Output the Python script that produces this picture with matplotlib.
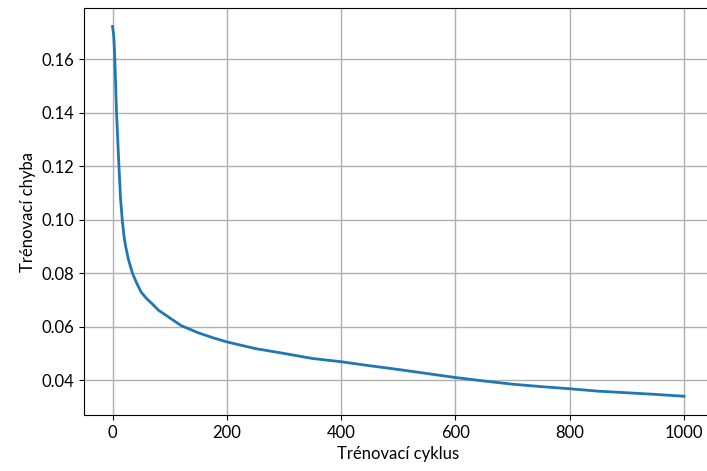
import matplotlib
matplotlib.use("Agg")
import matplotlib.pyplot as plt

plt.rcParams["font.family"] = ["Lato", "DejaVu Sans"]
plt.rcParams["font.size"] = 12

# values
cyklus = [0, 1, 2, 3, 4, 7, 11, 14, 17, 20, 23, 28, 35, 42, 50, 60, 70,
          80, 100, 120, 150, 175, 200, 250, 300, 350, 400, 450, 500, 550,
          600, 650, 700, 750, 800, 850, 900, 950, 1000]
chyba = [0.1722, 0.1705, 0.1690, 0.1650, 0.1600, 0.1400, 0.1210, 0.1080,
         0.1000, 0.0940, 0.0900, 0.0850, 0.0800, 0.0765, 0.0730, 0.0705,
         0.0685, 0.0663, 0.0634, 0.0605, 0.0578, 0.0560, 0.0544, 0.0519,
         0.0501, 0.0482, 0.0470, 0.0455, 0.0441, 0.0426, 0.0411, 0.0398,
         0.0386, 0.0377, 0.0369, 0.0360, 0.0354, 0.0348, 0.0341]

fig = plt.figure(figsize=(7.07, 4.71), dpi=100)
ax = fig.add_axes([0.1188, 0.1189, 0.8890, 0.8641])
ax.plot(cyklus, chyba, color="#1f77b4", linewidth=2)
ax.set_xlim(-49.95, 1049.95)
ax.set_ylim(0.0271, 0.1791)
ax.set_xticks([0, 200, 400, 600, 800, 1000])
ax.set_yticks([0.04, 0.06, 0.08, 0.10, 0.12, 0.14, 0.16])
ax.set_yticklabels(["0.04", "0.06", "0.08", "0.10", "0.12", "0.14", "0.16"])
ax.grid(True, color="#b0b0b0", linewidth=1)
ax.set_xlabel("Trénovací cyklus")
ax.set_ylabel("Trénovací chyba")
fig.savefig("out.png", dpi=100)
